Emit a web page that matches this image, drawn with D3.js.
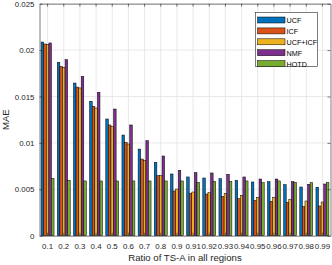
<!DOCTYPE html>
<html><head><meta charset="utf-8">
<script src="https://cdn.jsdelivr.net/npm/d3@7"></script>
<style>body{margin:0;background:#fff;} svg{display:block;}</style>
</head><body>
<script>
const categories = ["0.1","0.2","0.3","0.4","0.5","0.6","0.7","0.8","0.9","0.91","0.92","0.93","0.94","0.95","0.96","0.97","0.98","0.99"];
const seriesNames = ["UCF","ICF","UCF+ICF","NMF","HOTD"];
const UCF   = [0.02087,0.01868,0.01645,0.01448,0.01258,0.01085,0.00934,0.00791,0.00665,0.00633,0.00622,0.00614,0.00597,0.00579,0.00582,0.00550,0.00525,0.00522];
const ICF   = [0.02066,0.01825,0.01602,0.01394,0.01193,0.01006,0.00826,0.00647,0.00482,0.00457,0.00449,0.00424,0.00399,0.00381,0.00371,0.00360,0.00313,0.00320];
const UCFICF= [0.02060,0.01815,0.01592,0.01376,0.01175,0.00988,0.00808,0.00647,0.00503,0.00471,0.00463,0.00457,0.00435,0.00414,0.00414,0.00392,0.00374,0.00363];
const NMF   = [0.02077,0.01897,0.01717,0.01545,0.01365,0.01193,0.01024,0.00859,0.00705,0.00679,0.00676,0.00661,0.00633,0.00611,0.00611,0.00582,0.00554,0.00557];
const HOTD  = [0.00616,0.00597,0.00590,0.00590,0.00590,0.00590,0.00590,0.00590,0.00590,0.00575,0.00586,0.00586,0.00590,0.00571,0.00590,0.00575,0.00571,0.00571];
const yTicks = [0,0.005,0.01,0.015,0.02,0.025];
const yTickLabels = ["0","0.005","0.01","0.015","0.02","0.025"];
const colors = ["#0072BD","#D95319","#EDB120","#7E2F8E","#77AC30"];
const series = [UCF,ICF,UCFICF,NMF,HOTD];

const W=332,H=265;
const m={l:39.5,r:1.5,t:3.7,b:29.3};
const pw=W-m.l-m.r, ph=H-m.t-m.b;
const svg=d3.select("body").append("svg").attr("width",W).attr("height",H);
const g=svg.append("g").attr("transform",`translate(${m.l},${m.t})`);
const x=d3.scaleBand().domain(categories).range([0,pw]).paddingInner(0).paddingOuter(0);
const y=d3.scaleLinear().domain([0,0.025]).range([ph,0]);
const xs=d3.scaleBand().domain(d3.range(5)).range([x.bandwidth()*0.1,x.bandwidth()*0.9]).padding(0);
const axisCol="#262626";
const font="Liberation Sans, Arial, Helvetica, sans-serif";

// grid
g.append("g").selectAll("line").data(categories).join("line")
 .attr("x1",d=>x(d)+x.bandwidth()/2).attr("x2",d=>x(d)+x.bandwidth()/2)
 .attr("y1",0).attr("y2",ph).attr("stroke","#e3e3e3").attr("stroke-width",0.8);
g.append("g").selectAll("line").data(yTicks).join("line")
 .attr("x1",0).attr("x2",pw).attr("y1",d=>y(d)).attr("y2",d=>y(d))
 .attr("stroke","#e3e3e3").attr("stroke-width",0.8);

// bars
series.forEach((s,si)=>{
  g.append("g").selectAll("rect").data(s).join("rect")
   .attr("x",(d,i)=>x(categories[i])+xs(si))
   .attr("width",xs.bandwidth())
   .attr("y",d=>y(d)).attr("height",d=>ph-y(d))
   .attr("fill",colors[si]).attr("stroke","#000").attr("stroke-width",0.5);
});

// axes
const yAx=g.append("g").call(d3.axisLeft(y).tickValues(yTicks).tickFormat((d,i)=>yTickLabels[i]).tickSizeInner(-3).tickSizeOuter(0).tickPadding(5));
const yAxR=g.append("g").attr("transform",`translate(${pw},0)`).call(d3.axisRight(y).tickValues(yTicks).tickFormat("").tickSizeInner(-3).tickSizeOuter(0));
const xAx=g.append("g").attr("transform",`translate(0,${ph})`).call(d3.axisBottom(x).tickSizeInner(-3).tickSizeOuter(0).tickPadding(7.5));
const xAxT=g.append("g").call(d3.axisTop(x).tickFormat("").tickSizeInner(-3).tickSizeOuter(0));
[yAx,yAxR,xAx,xAxT].forEach(a=>{
  a.selectAll("path").attr("stroke",axisCol).attr("stroke-width",0.6);
  a.selectAll("line").attr("stroke",axisCol).attr("stroke-width",0.6);
  a.selectAll("text").attr("fill",axisCol).style("font-family",font).style("font-size","7.9px");
});

// labels
svg.append("text").attr("x",m.l+pw/2).attr("y",261).attr("text-anchor","middle")
 .attr("fill",axisCol).style("font-family",font).style("font-size","9.6px").text("Ratio of TS-A in all regions");
svg.append("text").attr("transform",`translate(8.8,${m.t+ph/2}) rotate(-90)`).attr("text-anchor","middle")
 .attr("fill",axisCol).style("font-family",font).style("font-size","9.6px").text("MAE");

// legend
const lg=svg.append("g").attr("transform","translate(255.5,12.5)");
lg.append("rect").attr("width",62).attr("height",54).attr("fill","#fff").attr("stroke",axisCol).attr("stroke-width",0.6);
seriesNames.forEach((n,i)=>{
  const cy=4+i*10.9;
  lg.append("rect").attr("x",2).attr("y",cy+0.5).attr("width",27.5).attr("height",6)
   .attr("fill",colors[i]).attr("stroke","#000").attr("stroke-width",0.5);
  lg.append("text").attr("x",31).attr("y",cy+6.5).attr("fill","#000")
   .style("font-family",font).style("font-size","7.2px").text(n);
});
</script>
</body></html>
